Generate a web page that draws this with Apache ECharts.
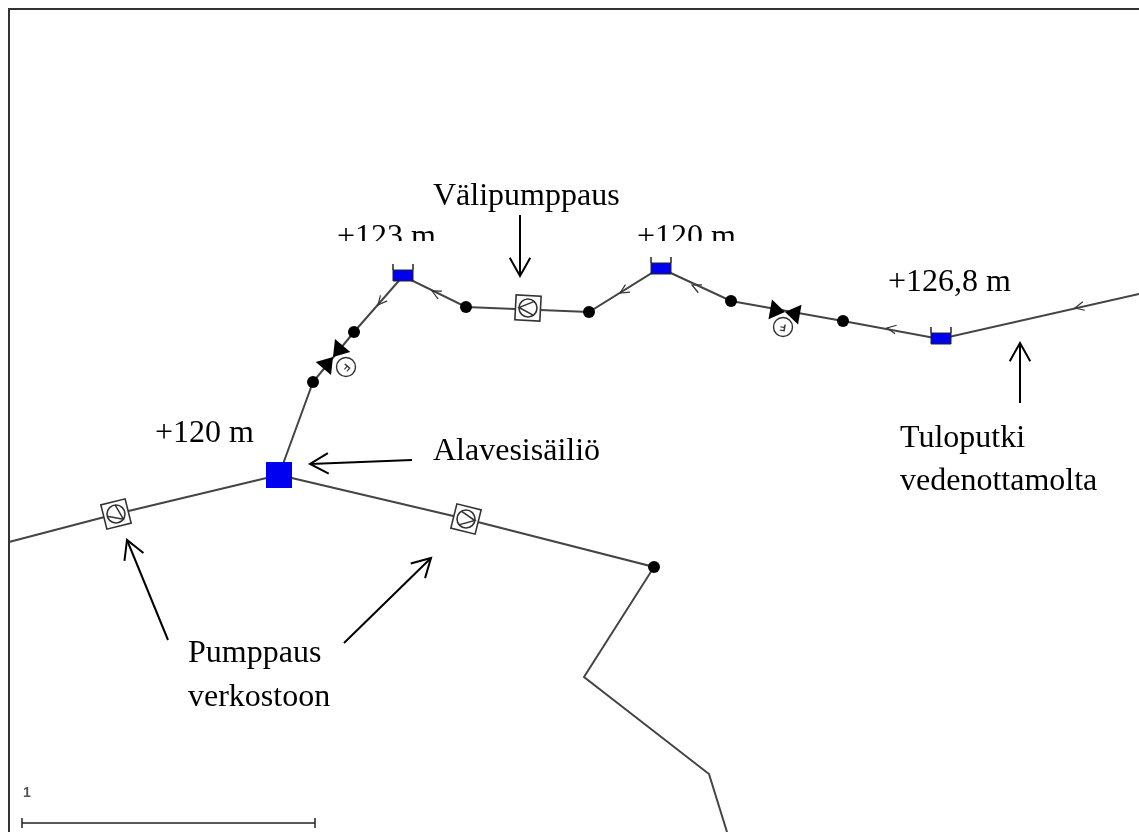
<!DOCTYPE html>
<html>
<head>
<meta charset="utf-8">
<title>Vesijohtoverkko</title>
<style>
html,body{margin:0;padding:0;background:#fff;}
#main{width:1139px;height:832px;}
</style>
<script src="https://cdn.jsdelivr.net/npm/echarts@6/dist/echarts.min.js"></script>
</head>
<body>
<div id="main"></div>
<script>
// pipes, in picture pixels (the axes run 0-1139 and 832-0)
var frame = [[9,832],[9,9],[1139,9]];
var pipeMain = [[1139,294],[940,339],[843,321],[731,301],[660,268],[589,312],[466,307],[403,276],[354,332],[313,382],[279,475]];
var pipeWest = [[9,542],[116,514],[279,475]];
var pipeEast = [[279,475],[466,519],[654,567],[584,677],[709,774],[727,832]];
var scaleBar = [[22,823],[315,823]];
var scaleEnds = [[22,818,22,828],[315,818,315,828]];
// black junctions
var nodes = [[466,307],[589,312],[731,301],[843,321],[354,332],[313,382],[654,567]];
// flow arrows: tip x, tip y, direction in degrees
var flowArrows = [[1075,308,167],[887,328,190],[692,285,205],[620,293,149],[432,291,207],[378,305,130]];
// tanks: x, y of the blue part
var smallTanks = [[403,275],[661,268],[941,338]];
var bigTank = [[279,475]];
// pumps: x, y, box rotation, direction the wedge points
var pumps = [[116,514,-14,35],[466,519,14,10],[528,308,3,183]];
// valves: x, y, pipe angle, gauge x, gauge y
var valves = [[333,357,-50,346,367],[785,312,10,783,327]];
// callout arrows: from x, from y, to x, to y
var callouts = [[520,215,520,276],[1020,403,1020,343],[412,460,310,464],[168,640,127,540],[344,643,431,558]];
// labels: x, baseline y
var labelTexts = ['Välipumppaus','+123 m','+120 m','+126,8 m','+120 m','Alavesisäiliö','Tuloputki','vedenottamolta','Pumppaus','verkostoon'];
var labelPos = [[433,204],[337,245],[637,245],[888,290],[155,441],[433,459],[900,446],[900,489],[188,661],[188,705]];
// the drawing covers the bottom of the two labels above the tanks
var labelCover = [[330,241,740,252]];
var scaleText = '1';
var scaleLabelPos = [[23,797]];

var lineColor = '#444';

function lineSeries(data,color,width,z){
    return {type:'line',data:data,symbol:'none',silent:true,animation:false,z:z,
        lineStyle:{color:color,width:width,cap:'butt',join:'miter'}};
}

function openHead(x,y,deg,len,spread,color,width){
    // two strokes going back from the tip
    var a = deg*Math.PI/180;
    function p(s){
        return [x-len*Math.cos(a+s),y-len*Math.sin(a+s)];
    }
    return {type:'polyline',shape:{points:[p(spread),[x,y],p(-spread)]},
        style:{stroke:color,lineWidth:width,fill:null}};
}

function renderFlow(params,api){
    var c = api.coord([api.value(0),api.value(1)]);
    return openHead(c[0],c[1],api.value(2),10,0.45,'#333',1.2);
}

function renderCallout(params,api){
    var a = api.coord([api.value(0),api.value(1)]);
    var b = api.coord([api.value(2),api.value(3)]);
    var deg = Math.atan2(b[1]-a[1],b[0]-a[0])*180/Math.PI;
    return {type:'group',children:[
        {type:'line',shape:{x1:a[0],y1:a[1],x2:b[0],y2:b[1]},style:{stroke:'#000',lineWidth:2}},
        openHead(b[0],b[1],deg,21,0.51,'#000',2)
    ]};
}

function renderSmallTank(params,api){
    var c = api.coord([api.value(0),api.value(1)]);
    return {type:'group',x:c[0],y:c[1],children:[
        {type:'rect',shape:{x:-10,y:-5,width:20,height:11},style:{fill:'#0000f0',stroke:'#222',lineWidth:1}},
        {type:'line',shape:{x1:-10,y1:-11,x2:-10,y2:-5},style:{stroke:'#222',lineWidth:1.5}},
        {type:'line',shape:{x1:10,y1:-11,x2:10,y2:-5},style:{stroke:'#222',lineWidth:1.5}}
    ]};
}

function renderBigTank(params,api){
    var c = api.coord([api.value(0),api.value(1)]);
    return {type:'rect',shape:{x:c[0]-13,y:c[1]-13,width:26,height:26},style:{fill:'#0000f0'}};
}

function renderPump(params,api){
    var c = api.coord([api.value(0),api.value(1)]);
    return {type:'group',x:c[0],y:c[1],children:[
        {type:'rect',rotation:-api.value(2)*Math.PI/180,shape:{x:-12.5,y:-12.5,width:25,height:25},
            style:{fill:'#fff',stroke:'#333',lineWidth:1.6}},
        {type:'circle',shape:{cx:0,cy:0,r:9},style:{fill:'#fff',stroke:'#333',lineWidth:1.6}},
        {type:'polyline',rotation:-api.value(3)*Math.PI/180,shape:{points:[[-6,-7],[9,0],[-6,7]]},
            style:{stroke:'#333',lineWidth:1.5,fill:null}}
    ]};
}

function renderValve(params,api){
    var c = api.coord([api.value(0),api.value(1)]);
    var g = api.coord([api.value(3),api.value(4)]);
    var rot = -api.value(2)*Math.PI/180;
    return {type:'group',children:[
        {type:'group',x:c[0],y:c[1],rotation:rot,children:[
            {type:'polygon',shape:{points:[[-15,-10],[0,0],[-15,10]]},style:{fill:'#000'}},
            {type:'polygon',shape:{points:[[15,-10],[0,0],[15,10]]},style:{fill:'#000'}}
        ]},
        {type:'circle',shape:{cx:g[0],cy:g[1],r:9.5},style:{fill:'#fff',stroke:'#333',lineWidth:1.4}},
        {type:'text',x:g[0],y:g[1],rotation:rot+Math.PI,
            style:{text:'F',fill:'#333',font:'bold 10px "Liberation Sans"',align:'center',verticalAlign:'middle'}}
    ]};
}

function renderLabel(params,api){
    var c = api.coord([api.value(0),api.value(1)]);
    return {type:'text',x:c[0],y:c[1]-23,style:{text:labelTexts[params.dataIndex],fill:'#000',
        font:'32px "Liberation Serif"',align:'left',verticalAlign:'top'}};
}

function renderCover(params,api){
    var a = api.coord([api.value(0),api.value(1)]);
    var b = api.coord([api.value(2),api.value(3)]);
    return {type:'rect',shape:{x:a[0],y:a[1],width:b[0]-a[0],height:b[1]-a[1]},style:{fill:'#fff'}};
}

function renderScaleLabel(params,api){
    var c = api.coord([api.value(0),api.value(1)]);
    return {type:'text',x:c[0],y:c[1]-11,style:{text:scaleText,fill:'#555',
        font:'bold 14px "Liberation Sans"',align:'left',verticalAlign:'top'}};
}

function renderScaleEnds(params,api){
    var a = api.coord([api.value(0),api.value(1)]);
    var b = api.coord([api.value(2),api.value(3)]);
    return {type:'line',shape:{x1:a[0],y1:a[1],x2:b[0],y2:b[1]},style:{stroke:'#222',lineWidth:1.5}};
}

function customSeries(render,data,z){
    return {type:'custom',renderItem:render,data:data,silent:true,animation:false,z:z,clip:false,
        encode:{x:0,y:1}};
}

var option = {
    animation:false,
    backgroundColor:'#fff',
    grid:{left:0,right:0,top:0,bottom:0},
    tooltip:{show:false},
    xAxis:{type:'value',min:0,max:1139,show:false},
    yAxis:{type:'value',min:0,max:832,inverse:true,show:false},
    series:[
        lineSeries(frame,'#333',2,1),
        customSeries(renderLabel,labelPos,2),
        customSeries(renderCover,labelCover,3),
        lineSeries(pipeMain,lineColor,2,4),
        lineSeries(pipeWest,lineColor,2,4),
        lineSeries(pipeEast,lineColor,2,4),
        lineSeries(scaleBar,'#222',1.5,4),
        customSeries(renderScaleEnds,scaleEnds,4),
        customSeries(renderScaleLabel,scaleLabelPos,4),
        {type:'scatter',data:nodes,symbol:'circle',symbolSize:12,silent:true,animation:false,z:5,
            itemStyle:{color:'#000',opacity:1}},
        customSeries(renderFlow,flowArrows,5),
        customSeries(renderSmallTank,smallTanks,6),
        customSeries(renderBigTank,bigTank,6),
        customSeries(renderPump,pumps,6),
        customSeries(renderValve,valves,6),
        customSeries(renderCallout,callouts,7)
    ]
};

var chart = echarts.init(document.getElementById('main'),null,{renderer:'canvas'});
chart.setOption(option);
</script>
</body>
</html>
